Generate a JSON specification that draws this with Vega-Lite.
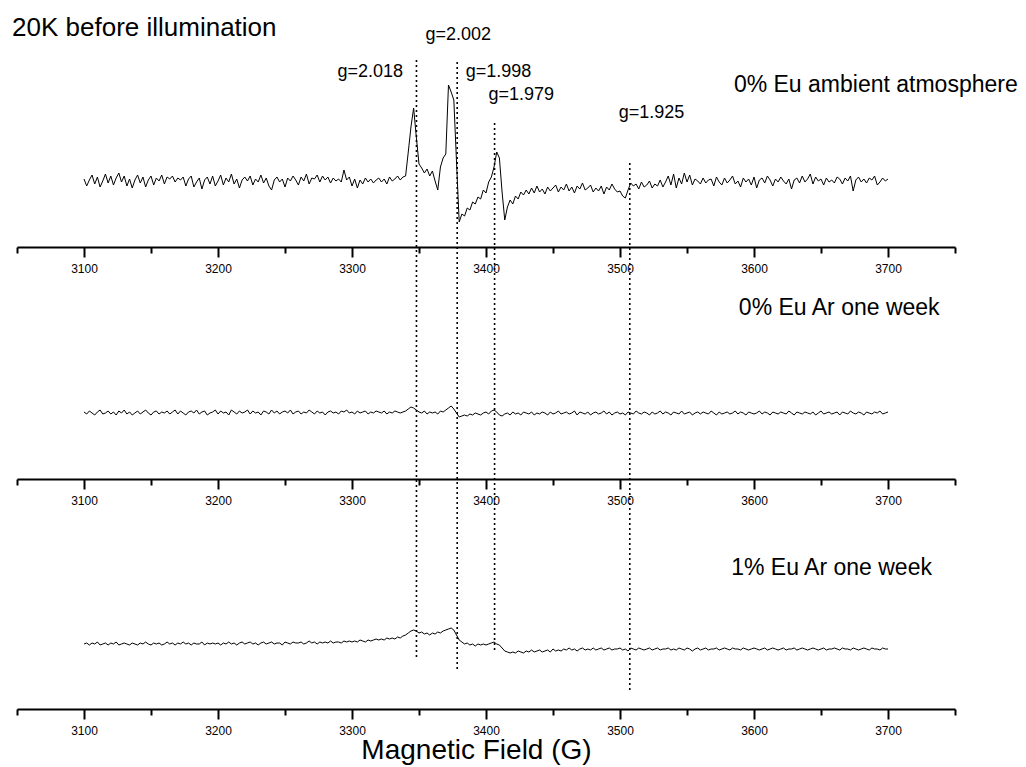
{
  "$schema": "https://vega.github.io/schema/vega-lite/v6.json",
  "padding": {"left": 12, "top": 5, "right": 5, "bottom": 2},
  "bounds": "flush",
  "spacing": 40,
  "config": {"view": {"stroke": null}, "axis": {"grid": false}},
  "datasets": {
    "spec": [
      {"x":3100,"a":3,"b":1,"c":1},{"x":3102,"a":-4,"b":-1,"c":2},{"x":3104,"a":2,"b":2,"c":0},{"x":3106,"a":7,"b":0,"c":2},{"x":3108,"a":-2,"b":-2,"c":1},
      {"x":3110,"a":5,"b":1,"c":3},{"x":3112,"a":-5,"b":3,"c":0},{"x":3114,"a":1,"b":-1,"c":1},{"x":3116,"a":8,"b":0,"c":2},{"x":3118,"a":-1,"b":2,"c":0},
      {"x":3120,"a":6,"b":-1,"c":2},{"x":3122,"a":-3,"b":1,"c":1},{"x":3124,"a":4,"b":-2,"c":3},{"x":3126,"a":9,"b":2,"c":0},{"x":3128,"a":0,"b":0,"c":1},
      {"x":3130,"a":6,"b":3,"c":2},{"x":3132,"a":-4,"b":-1,"c":1},{"x":3134,"a":3,"b":1,"c":0},{"x":3136,"a":-6,"b":-2,"c":2},{"x":3138,"a":2,"b":0,"c":1},
      {"x":3140,"a":7,"b":2,"c":0},{"x":3142,"a":-1,"b":-1,"c":2},{"x":3144,"a":5,"b":1,"c":1},{"x":3146,"a":-5,"b":3,"c":3},{"x":3148,"a":2,"b":0,"c":1},
      {"x":3150,"a":6,"b":-2,"c":0},{"x":3152,"a":-3,"b":1,"c":2},{"x":3154,"a":4,"b":2,"c":1},{"x":3156,"a":1,"b":-1,"c":2},{"x":3158,"a":7,"b":1,"c":0},
      {"x":3160,"a":-2,"b":0,"c":1},{"x":3162,"a":5,"b":2,"c":3},{"x":3164,"a":3,"b":-1,"c":1},{"x":3166,"a":6,"b":1,"c":2},{"x":3168,"a":0,"b":3,"c":0},
      {"x":3170,"a":4,"b":-1,"c":2},{"x":3172,"a":2,"b":2,"c":1},{"x":3174,"a":5,"b":0,"c":3},{"x":3176,"a":-4,"b":-2,"c":1},{"x":3178,"a":3,"b":1,"c":2},
      {"x":3180,"a":6,"b":2,"c":0},{"x":3182,"a":-5,"b":0,"c":2},{"x":3184,"a":0,"b":3,"c":1},{"x":3186,"a":4,"b":-1,"c":1},{"x":3188,"a":-7,"b":1,"c":3},
      {"x":3190,"a":2,"b":2,"c":0},{"x":3192,"a":5,"b":-2,"c":2},{"x":3194,"a":-2,"b":0,"c":1},{"x":3196,"a":6,"b":1,"c":2},{"x":3198,"a":-4,"b":3,"c":1},
      {"x":3200,"a":1,"b":-1,"c":2},{"x":3202,"a":7,"b":2,"c":0},{"x":3204,"a":-3,"b":0,"c":2},{"x":3206,"a":4,"b":1,"c":1},{"x":3208,"a":0,"b":-2,"c":3},
      {"x":3210,"a":8,"b":3,"c":1},{"x":3212,"a":-2,"b":1,"c":2},{"x":3214,"a":3,"b":-1,"c":0},{"x":3216,"a":-6,"b":2,"c":2},{"x":3218,"a":2,"b":0,"c":3},
      {"x":3220,"a":5,"b":1,"c":1},{"x":3222,"a":1,"b":3,"c":2},{"x":3224,"a":6,"b":-1,"c":3},{"x":3226,"a":-3,"b":2,"c":1},{"x":3228,"a":3,"b":0,"c":2},
      {"x":3230,"a":0,"b":1,"c":0},{"x":3232,"a":7,"b":-2,"c":2},{"x":3234,"a":-1,"b":2,"c":3},{"x":3236,"a":4,"b":1,"c":1},{"x":3238,"a":-4,"b":-1,"c":2},
      {"x":3240,"a":-8,"b":3,"c":3},{"x":3242,"a":2,"b":0,"c":1},{"x":3244,"a":5,"b":2,"c":2},{"x":3246,"a":0,"b":-1,"c":2},{"x":3248,"a":3,"b":1,"c":0},
      {"x":3250,"a":-5,"b":2,"c":3},{"x":3252,"a":4,"b":0,"c":2},{"x":3254,"a":1,"b":3,"c":1},{"x":3256,"a":6,"b":-1,"c":3},{"x":3258,"a":2,"b":1,"c":2},
      {"x":3260,"a":-3,"b":2,"c":2},{"x":3262,"a":5,"b":-1,"c":3},{"x":3264,"a":1,"b":1,"c":1},{"x":3266,"a":8,"b":0,"c":2},{"x":3268,"a":-2,"b":3,"c":4},
      {"x":3270,"a":4,"b":1,"c":2},{"x":3272,"a":3,"b":-1,"c":3},{"x":3274,"a":7,"b":2,"c":1},{"x":3276,"a":0,"b":0,"c":3},{"x":3278,"a":6,"b":1,"c":2},
      {"x":3280,"a":2,"b":-2,"c":3},{"x":3282,"a":5,"b":1,"c":2},{"x":3284,"a":-1,"b":2,"c":4},{"x":3286,"a":4,"b":0,"c":2},{"x":3288,"a":1,"b":1,"c":3},
      {"x":3290,"a":3,"b":-1,"c":3},{"x":3292,"a":0,"b":2,"c":2},{"x":3294,"a":12,"b":1,"c":4},{"x":3296,"a":2,"b":3,"c":3},{"x":3298,"a":5,"b":0,"c":4},
      {"x":3300,"a":-4,"b":1,"c":3},{"x":3302,"a":3,"b":-1,"c":4},{"x":3304,"a":-6,"b":2,"c":3},{"x":3306,"a":2,"b":0,"c":5},{"x":3308,"a":-2,"b":1,"c":4},
      {"x":3310,"a":4,"b":2,"c":3},{"x":3312,"a":0,"b":-1,"c":5},{"x":3314,"a":3,"b":1,"c":4},{"x":3316,"a":-1,"b":0,"c":5},{"x":3318,"a":2,"b":2,"c":6},
      {"x":3320,"a":4,"b":1,"c":5},{"x":3322,"a":0,"b":0,"c":6},{"x":3324,"a":3,"b":2,"c":5},{"x":3326,"a":-2,"b":-1,"c":7},{"x":3328,"a":5,"b":1,"c":6},
      {"x":3330,"a":1,"b":0,"c":7},{"x":3332,"a":3,"b":2,"c":6},{"x":3334,"a":6,"b":1,"c":8},{"x":3336,"a":2,"b":0,"c":7},{"x":3338,"a":5,"b":1,"c":9},
      {"x":3340,"a":6,"b":2,"c":10},{"x":3342,"a":30,"b":4,"c":12},{"x":3344,"a":55,"b":6,"c":14},{"x":3346,"a":74,"b":5,"c":15},{"x":3348,"a":45,"b":3,"c":14},
      {"x":3350,"a":18,"b":1,"c":12},{"x":3352,"a":14,"b":0,"c":13},{"x":3354,"a":9,"b":2,"c":11},{"x":3356,"a":13,"b":-1,"c":12},{"x":3358,"a":6,"b":1,"c":10},
      {"x":3360,"a":11,"b":0,"c":12},{"x":3362,"a":1,"b":1,"c":11},{"x":3364,"a":-8,"b":-1,"c":13},{"x":3366,"a":15,"b":2,"c":12},{"x":3368,"a":24,"b":1,"c":14},
      {"x":3370,"a":28,"b":3,"c":15},{"x":3372,"a":97,"b":5,"c":16},{"x":3374,"a":90,"b":7,"c":17},{"x":3376,"a":82,"b":4,"c":15},{"x":3378,"a":20,"b":0,"c":10},
      {"x":3380,"a":-40,"b":-4,"c":5},{"x":3382,"a":-32,"b":-3,"c":3},{"x":3384,"a":-34,"b":-2,"c":1},{"x":3386,"a":-26,"b":-3,"c":2},{"x":3388,"a":-28,"b":-1,"c":0},
      {"x":3390,"a":-20,"b":-2,"c":1},{"x":3392,"a":-22,"b":0,"c":-1},{"x":3394,"a":-15,"b":-1,"c":1},{"x":3396,"a":-17,"b":-2,"c":0},{"x":3398,"a":-8,"b":0,"c":1},
      {"x":3400,"a":-11,"b":1,"c":0},{"x":3402,"a":0,"b":-1,"c":1},{"x":3404,"a":5,"b":2,"c":2},{"x":3406,"a":15,"b":3,"c":3},{"x":3408,"a":30,"b":1,"c":1},
      {"x":3410,"a":24,"b":-2,"c":0},{"x":3412,"a":-10,"b":-3,"c":-3},{"x":3414,"a":-38,"b":-1,"c":-6},{"x":3416,"a":-25,"b":0,"c":-7},{"x":3418,"a":-18,"b":-2,"c":-8},
      {"x":3420,"a":-22,"b":1,"c":-7},{"x":3422,"a":-14,"b":-1,"c":-8},{"x":3424,"a":-17,"b":0,"c":-6},{"x":3426,"a":-10,"b":-2,"c":-7},{"x":3428,"a":-13,"b":1,"c":-8},
      {"x":3430,"a":-8,"b":0,"c":-6},{"x":3432,"a":-12,"b":-1,"c":-7},{"x":3434,"a":-6,"b":1,"c":-5},{"x":3436,"a":-11,"b":-2,"c":-7},{"x":3438,"a":-4,"b":0,"c":-6},
      {"x":3440,"a":-10,"b":-1,"c":-5},{"x":3442,"a":-7,"b":1,"c":-7},{"x":3444,"a":-12,"b":0,"c":-6},{"x":3446,"a":-5,"b":-2,"c":-5},{"x":3448,"a":-9,"b":1,"c":-7},
      {"x":3450,"a":-6,"b":-1,"c":-4},{"x":3452,"a":-3,"b":0,"c":-6},{"x":3454,"a":-10,"b":2,"c":-5},{"x":3456,"a":-5,"b":-1,"c":-6},{"x":3458,"a":-8,"b":0,"c":-4},
      {"x":3460,"a":-2,"b":1,"c":-5},{"x":3462,"a":-9,"b":-1,"c":-3},{"x":3464,"a":-5,"b":0,"c":-5},{"x":3466,"a":-11,"b":2,"c":-4},{"x":3468,"a":-4,"b":-2,"c":-6},
      {"x":3470,"a":-7,"b":1,"c":-4},{"x":3472,"a":-1,"b":0,"c":-3},{"x":3474,"a":-8,"b":-1,"c":-5},{"x":3476,"a":-6,"b":1,"c":-4},{"x":3478,"a":-3,"b":-2,"c":-5},
      {"x":3480,"a":-10,"b":0,"c":-3},{"x":3482,"a":-6,"b":1,"c":-5},{"x":3484,"a":-9,"b":-1,"c":-4},{"x":3486,"a":-4,"b":0,"c":-3},{"x":3488,"a":-12,"b":2,"c":-5},
      {"x":3490,"a":-5,"b":-1,"c":-4},{"x":3492,"a":-8,"b":1,"c":-3},{"x":3494,"a":-2,"b":-2,"c":-5},{"x":3496,"a":-7,"b":0,"c":-4},{"x":3498,"a":-10,"b":1,"c":-4},
      {"x":3500,"a":-9,"b":-1,"c":-3},{"x":3502,"a":-14,"b":0,"c":-5},{"x":3504,"a":-16,"b":-2,"c":-4},{"x":3506,"a":-8,"b":1,"c":-6},{"x":3508,"a":-1,"b":0,"c":-3},
      {"x":3510,"a":-4,"b":-1,"c":-4},{"x":3512,"a":-2,"b":2,"c":-5},{"x":3514,"a":-7,"b":0,"c":-3},{"x":3516,"a":0,"b":-1,"c":-4},{"x":3518,"a":-5,"b":1,"c":-5},
      {"x":3520,"a":-3,"b":0,"c":-4},{"x":3522,"a":1,"b":-2,"c":-3},{"x":3524,"a":-6,"b":1,"c":-5},{"x":3526,"a":-2,"b":-1,"c":-4},{"x":3528,"a":-4,"b":0,"c":-3},
      {"x":3530,"a":2,"b":2,"c":-5},{"x":3532,"a":-5,"b":-1,"c":-4},{"x":3534,"a":0,"b":1,"c":-4},{"x":3536,"a":6,"b":0,"c":-3},{"x":3538,"a":-3,"b":-2,"c":-5},
      {"x":3540,"a":8,"b":1,"c":-4},{"x":3542,"a":-6,"b":0,"c":-5},{"x":3544,"a":4,"b":-1,"c":-3},{"x":3546,"a":-2,"b":2,"c":-4},{"x":3548,"a":9,"b":-1,"c":-5},
      {"x":3550,"a":0,"b":0,"c":-3},{"x":3552,"a":7,"b":1,"c":-4},{"x":3554,"a":-3,"b":-2,"c":-6},{"x":3556,"a":3,"b":0,"c":-4},{"x":3558,"a":1,"b":1,"c":-3},
      {"x":3560,"a":-2,"b":-1,"c":-5},{"x":3562,"a":4,"b":1,"c":-4},{"x":3564,"a":-1,"b":0,"c":-3},{"x":3566,"a":2,"b":-1,"c":-5},{"x":3568,"a":3,"b":2,"c":-4},
      {"x":3570,"a":-4,"b":0,"c":-4},{"x":3572,"a":5,"b":-2,"c":-3},{"x":3574,"a":0,"b":1,"c":-5},{"x":3576,"a":-3,"b":-1,"c":-4},{"x":3578,"a":4,"b":0,"c":-3},
      {"x":3580,"a":-1,"b":1,"c":-4},{"x":3582,"a":2,"b":-1,"c":-5},{"x":3584,"a":6,"b":0,"c":-3},{"x":3586,"a":-2,"b":2,"c":-4},{"x":3588,"a":1,"b":-1,"c":-4},
      {"x":3590,"a":-5,"b":1,"c":-5},{"x":3592,"a":4,"b":0,"c":-3},{"x":3594,"a":0,"b":-2,"c":-4},{"x":3596,"a":3,"b":1,"c":-5},{"x":3598,"a":-3,"b":0,"c":-4},
      {"x":3600,"a":5,"b":-1,"c":-3},{"x":3602,"a":-6,"b":0,"c":-4},{"x":3604,"a":2,"b":2,"c":-5},{"x":3606,"a":4,"b":-1,"c":-4},{"x":3608,"a":-1,"b":1,"c":-3},
      {"x":3610,"a":6,"b":0,"c":-5},{"x":3612,"a":2,"b":-2,"c":-4},{"x":3614,"a":-4,"b":1,"c":-3},{"x":3616,"a":3,"b":0,"c":-4},{"x":3618,"a":0,"b":-1,"c":-5},
      {"x":3620,"a":5,"b":1,"c":-4},{"x":3622,"a":1,"b":0,"c":-3},{"x":3624,"a":-2,"b":-1,"c":-5},{"x":3626,"a":3,"b":2,"c":-4},{"x":3628,"a":-7,"b":0,"c":-4},
      {"x":3630,"a":2,"b":-2,"c":-3},{"x":3632,"a":4,"b":1,"c":-5},{"x":3634,"a":-1,"b":0,"c":-4},{"x":3636,"a":6,"b":-1,"c":-3},{"x":3638,"a":0,"b":1,"c":-4},
      {"x":3640,"a":3,"b":0,"c":-5},{"x":3642,"a":8,"b":-1,"c":-4},{"x":3644,"a":-2,"b":1,"c":-3},{"x":3646,"a":5,"b":-2,"c":-4},{"x":3648,"a":1,"b":0,"c":-5},
      {"x":3650,"a":3,"b":2,"c":-4},{"x":3652,"a":-3,"b":-1,"c":-3},{"x":3654,"a":4,"b":0,"c":-5},{"x":3656,"a":0,"b":1,"c":-4},{"x":3658,"a":2,"b":-1,"c":-4},
      {"x":3660,"a":-1,"b":0,"c":-3},{"x":3662,"a":5,"b":1,"c":-4},{"x":3664,"a":3,"b":-2,"c":-5},{"x":3666,"a":-2,"b":1,"c":-3},{"x":3668,"a":4,"b":0,"c":-4},
      {"x":3670,"a":1,"b":-1,"c":-4},{"x":3672,"a":6,"b":2,"c":-5},{"x":3674,"a":-9,"b":0,"c":-3},{"x":3676,"a":2,"b":-1,"c":-4},{"x":3678,"a":5,"b":1,"c":-5},
      {"x":3680,"a":0,"b":0,"c":-4},{"x":3682,"a":3,"b":-2,"c":-3},{"x":3684,"a":-1,"b":1,"c":-4},{"x":3686,"a":4,"b":0,"c":-5},{"x":3688,"a":2,"b":-1,"c":-3},
      {"x":3690,"a":6,"b":1,"c":-4},{"x":3692,"a":-3,"b":0,"c":-4},{"x":3694,"a":0,"b":2,"c":-5},{"x":3696,"a":4,"b":-1,"c":-3},{"x":3698,"a":1,"b":0,"c":-4},
      {"x":3700,"a":3,"b":1,"c":-4}
    ],
    "glines": [
      {"B": 3348.1, "top": 122, "bottom": -478},
      {"B": 3378.5, "top": 120, "bottom": -487},
      {"B": 3406.4, "top": 59, "bottom": -471},
      {"B": 3507.3, "top": 19, "bottom": -508}
    ],
    "notes": [
      {"panel": 1, "kind": "title", "label": "20K before illumination", "B": 3046.3, "I": 146},
      {"panel": 1, "kind": "g", "label": "g=2.018", "B": 3289.1, "I": 105},
      {"panel": 1, "kind": "g", "label": "g=2.002", "B": 3354.9, "I": 142},
      {"panel": 1, "kind": "g", "label": "g=1.998", "B": 3384.8, "I": 105},
      {"panel": 1, "kind": "g", "label": "g=1.979", "B": 3401.9, "I": 82},
      {"panel": 1, "kind": "g", "label": "g=1.925", "B": 3499.1, "I": 64},
      {"panel": 1, "kind": "sample", "label": "0% Eu ambient atmosphere", "B": 3585.0, "I": 90},
      {"panel": 2, "kind": "sample", "label": "0% Eu Ar one week", "B": 3588.7, "I": 98},
      {"panel": 3, "kind": "sample", "label": "1% Eu Ar one week", "B": 3583.0, "I": 70}
    ]
  },
  "vconcat": [
    {
      "width": 938,
      "height": 242,
      "layer": [
        {
          "data": {"name": "spec"},
          "mark": {"type": "line", "color": "#000", "strokeWidth": 1},
          "encoding": {
            "x": {"field": "x", "type": "quantitative", "scale": {"domain": [3050, 3750], "nice": false, "zero": false},
              "axis": {"values": [3050,3100,3150,3200,3250,3300,3350,3400,3450,3500,3550,3600,3650,3700,3750], "format": "d",
                "labelExpr": "datum.value % 100 === 0 ? datum.label : ''",
                "tickSize": {"condition": {"test": "datum.value % 100 === 0", "value": 10}, "value": 6},
                "tickWidth": 2, "tickColor": "#000", "domainWidth": 2, "domainColor": "#000",
                "labelFont": "Liberation Sans", "labelFontSize": 12, "labelColor": "#000", "labelPadding": 6,
                "labelOverlap": false, "labelFlush": false, "grid": false, "title": null}},
            "y": {"field": "a", "type": "quantitative", "scale": {"domain": [-65, 177], "nice": false, "zero": false}, "axis": null}
          }
        },
        {
          "data": {"name": "glines"},
          "mark": {"type": "rule", "color": "#000", "strokeWidth": 1.6, "strokeDash": [2, 3]},
          "encoding": {
            "x": {"field": "B", "type": "quantitative"},
            "y": {"field": "top", "type": "quantitative"},
            "y2": {"field": "bottom"}
          }
        },
        {
          "data": {"name": "notes"},
          "transform": [{"filter": "datum.panel === 1 && datum.kind === 'title'"}],
          "mark": {"type": "text", "align": "left", "baseline": "alphabetic", "font": "Liberation Sans", "fontSize": 26, "color": "#000"},
          "encoding": {"x": {"field": "B", "type": "quantitative"}, "y": {"field": "I", "type": "quantitative"}, "text": {"field": "label"}}
        },
        {
          "data": {"name": "notes"},
          "transform": [{"filter": "datum.panel === 1 && datum.kind === 'g'"}],
          "mark": {"type": "text", "align": "left", "baseline": "alphabetic", "font": "Liberation Sans", "fontSize": 18, "color": "#000"},
          "encoding": {"x": {"field": "B", "type": "quantitative"}, "y": {"field": "I", "type": "quantitative"}, "text": {"field": "label"}}
        },
        {
          "data": {"name": "notes"},
          "transform": [{"filter": "datum.panel === 1 && datum.kind === 'sample'"}],
          "mark": {"type": "text", "align": "left", "baseline": "alphabetic", "font": "Liberation Sans", "fontSize": 23, "color": "#000"},
          "encoding": {"x": {"field": "B", "type": "quantitative"}, "y": {"field": "I", "type": "quantitative"}, "text": {"field": "label"}}
        }
      ]
    },
    {
      "width": 938,
      "height": 192,
      "layer": [
        {
          "data": {"name": "spec"},
          "mark": {"type": "line", "color": "#000", "strokeWidth": 1},
          "encoding": {
            "x": {"field": "x", "type": "quantitative", "scale": {"domain": [3050, 3750], "nice": false, "zero": false},
              "axis": {"values": [3050,3100,3150,3200,3250,3300,3350,3400,3450,3500,3550,3600,3650,3700,3750], "format": "d",
                "labelExpr": "datum.value % 100 === 0 ? datum.label : ''",
                "tickSize": {"condition": {"test": "datum.value % 100 === 0", "value": 10}, "value": 6},
                "tickWidth": 2, "tickColor": "#000", "domainWidth": 2, "domainColor": "#000",
                "labelFont": "Liberation Sans", "labelFontSize": 12, "labelColor": "#000", "labelPadding": 6,
                "labelOverlap": false, "labelFlush": false, "grid": false, "title": null}},
            "y": {"field": "b", "type": "quantitative", "scale": {"domain": [-66, 126], "nice": false, "zero": false}, "axis": null}
          }
        },
        {
          "data": {"name": "notes"},
          "transform": [{"filter": "datum.panel === 2"}],
          "mark": {"type": "text", "align": "left", "baseline": "alphabetic", "font": "Liberation Sans", "fontSize": 23, "color": "#000"},
          "encoding": {"x": {"field": "B", "type": "quantitative"}, "y": {"field": "I", "type": "quantitative"}, "text": {"field": "label"}}
        }
      ]
    },
    {
      "width": 938,
      "height": 190,
      "layer": [
        {
          "data": {"name": "spec"},
          "mark": {"type": "line", "color": "#000", "strokeWidth": 1},
          "encoding": {
            "x": {"field": "x", "type": "quantitative", "scale": {"domain": [3050, 3750], "nice": false, "zero": false},
              "axis": {"values": [3050,3100,3150,3200,3250,3300,3350,3400,3450,3500,3550,3600,3650,3700,3750], "format": "d",
                "labelExpr": "datum.value % 100 === 0 ? datum.label : ''",
                "tickSize": {"condition": {"test": "datum.value % 100 === 0", "value": 10}, "value": 6},
                "tickWidth": 2, "tickColor": "#000", "domainWidth": 2, "domainColor": "#000",
                "labelFont": "Liberation Sans", "labelFontSize": 12, "labelColor": "#000", "labelPadding": 6,
                "labelOverlap": false, "labelFlush": false, "grid": false,
                "title": "Magnetic Field (G)", "titleFont": "Liberation Sans", "titleFontSize": 28, "titleFontWeight": "normal",
                "titleColor": "#000", "titleX": 459, "titleY": 49, "titleBaseline": "alphabetic", "titleAlign": "center"}},
            "y": {"field": "c", "type": "quantitative", "scale": {"domain": [-64, 126], "nice": false, "zero": false}, "axis": null}
          }
        },
        {
          "data": {"name": "notes"},
          "transform": [{"filter": "datum.panel === 3"}],
          "mark": {"type": "text", "align": "left", "baseline": "alphabetic", "font": "Liberation Sans", "fontSize": 23, "color": "#000"},
          "encoding": {"x": {"field": "B", "type": "quantitative"}, "y": {"field": "I", "type": "quantitative"}, "text": {"field": "label"}}
        }
      ]
    }
  ]
}
